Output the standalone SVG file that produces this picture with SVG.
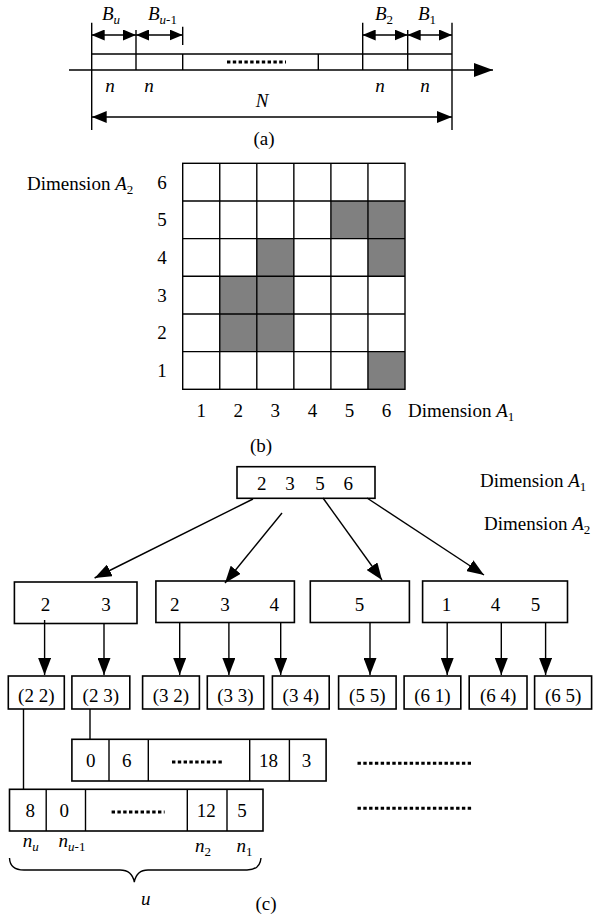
<svg xmlns="http://www.w3.org/2000/svg" width="593" height="917" viewBox="0 0 593 917">
<style>
text{font-family:"Liberation Serif","Times New Roman",serif;font-size:19px;fill:#000}
.it{font-style:italic}
.sub{font-size:13px}
.ln{stroke:#000;stroke-width:1.4;fill:none}
.bx{stroke:#000;stroke-width:1.6;fill:#fff}
.dots{stroke:#000;stroke-width:3;stroke-dasharray:3.4 2.4;fill:none}
.c{text-anchor:middle}
</style>
<defs>
<marker id="ah" markerUnits="userSpaceOnUse" markerWidth="17" markerHeight="13" refX="17" refY="6.5" orient="auto"><path d="M0,0 L17,6.5 L0,13 z" fill="#000"/></marker>
<marker id="sm" markerUnits="userSpaceOnUse" markerWidth="13" markerHeight="11" refX="13" refY="5.5" orient="auto-start-reverse"><path d="M0,0 L13,5.5 L0,11 z" fill="#000"/></marker>
<marker id="nm" markerUnits="userSpaceOnUse" markerWidth="15" markerHeight="12" refX="15" refY="6" orient="auto-start-reverse"><path d="M0,0 L15,6 L0,12 z" fill="#000"/></marker>
<marker id="ax" markerUnits="userSpaceOnUse" markerWidth="19" markerHeight="14" refX="19" refY="7" orient="auto"><path d="M0,0 L19,7 L0,14 z" fill="#000"/></marker>
</defs>

<!-- (a) -->
<g id="partA">
<line class="ln" x1="69" y1="70" x2="493" y2="70" marker-end="url(#ax)"/>
<line class="ln" x1="91.7" y1="54" x2="452" y2="54"/>
<line class="ln" x1="91.7" y1="22.7" x2="91.7" y2="130"/>
<line class="ln" x1="136" y1="30" x2="136" y2="70"/>
<line class="ln" x1="182.7" y1="26.7" x2="182.7" y2="45"/>
<line class="ln" x1="182.7" y1="54" x2="182.7" y2="70"/>
<line class="ln" x1="318.3" y1="54" x2="318.3" y2="70"/>
<line class="ln" x1="362.7" y1="22.7" x2="362.7" y2="70"/>
<line class="ln" x1="407.7" y1="30" x2="407.7" y2="70"/>
<line class="ln" x1="452" y1="22.7" x2="452" y2="130"/>
<line class="dots" x1="227" y1="62" x2="286" y2="62"/>
<line class="ln" x1="91.7" y1="35" x2="136" y2="35" marker-start="url(#sm)" marker-end="url(#sm)"/>
<line class="ln" x1="136" y1="35" x2="182.7" y2="35" marker-start="url(#sm)" marker-end="url(#sm)"/>
<line class="ln" x1="362.7" y1="35" x2="407.7" y2="35" marker-start="url(#sm)" marker-end="url(#sm)"/>
<line class="ln" x1="407.7" y1="35" x2="452" y2="35" marker-start="url(#sm)" marker-end="url(#sm)"/>
<line class="ln" x1="91.7" y1="117" x2="452" y2="117" marker-start="url(#nm)" marker-end="url(#nm)"/>
<text x="102" y="20"><tspan class="it">B</tspan><tspan class="it sub" dy="4">u</tspan></text>
<text x="148" y="20"><tspan class="it">B</tspan><tspan class="it sub" dy="4">u</tspan><tspan class="sub">-1</tspan></text>
<text x="375" y="20"><tspan class="it">B</tspan><tspan class="sub" dy="4">2</tspan></text>
<text x="418" y="20"><tspan class="it">B</tspan><tspan class="sub" dy="4">1</tspan></text>
<text class="it c" x="110" y="92">n</text>
<text class="it c" x="149" y="92">n</text>
<text class="it c" x="380" y="92">n</text>
<text class="it c" x="425" y="92">n</text>
<text class="it c" x="262" y="107">N</text>
<text class="c" x="264" y="145">(a)</text>
</g>

<!-- (b) -->
<g id="partB">
<g fill="#808080">
<rect x="330.9" y="200.97" width="37.05" height="37.67"/>
<rect x="367.95" y="200.97" width="37.05" height="37.67"/>
<rect x="256.8" y="238.64" width="37.05" height="37.67"/>
<rect x="367.95" y="238.64" width="37.05" height="37.67"/>
<rect x="219.75" y="276.31" width="37.05" height="37.67"/>
<rect x="256.8" y="276.31" width="37.05" height="37.67"/>
<rect x="219.75" y="313.98" width="37.05" height="37.67"/>
<rect x="256.8" y="313.98" width="37.05" height="37.67"/>
<rect x="367.95" y="351.65" width="37.05" height="37.67"/>
</g>
<g class="ln" stroke-width="1.6">
<rect x="182.7" y="163.3" width="222.3" height="226" style="fill:none"/>
<line x1="219.75" y1="163.3" x2="219.75" y2="389.3"/>
<line x1="256.8" y1="163.3" x2="256.8" y2="389.3"/>
<line x1="293.85" y1="163.3" x2="293.85" y2="389.3"/>
<line x1="330.9" y1="163.3" x2="330.9" y2="389.3"/>
<line x1="367.95" y1="163.3" x2="367.95" y2="389.3"/>
<line x1="182.7" y1="200.97" x2="405" y2="200.97"/>
<line x1="182.7" y1="238.64" x2="405" y2="238.64"/>
<line x1="182.7" y1="276.31" x2="405" y2="276.31"/>
<line x1="182.7" y1="313.98" x2="405" y2="313.98"/>
<line x1="182.7" y1="351.65" x2="405" y2="351.65"/>
</g>
<text class="c" x="162" y="188.6">6</text>
<text class="c" x="162" y="226.3">5</text>
<text class="c" x="162" y="264">4</text>
<text class="c" x="162" y="301.6">3</text>
<text class="c" x="162" y="339.3">2</text>
<text class="c" x="162" y="377">1</text>
<text class="c" x="201.2" y="417">1</text>
<text class="c" x="238.3" y="417">2</text>
<text class="c" x="275.3" y="417">3</text>
<text class="c" x="312.4" y="417">4</text>
<text class="c" x="349.4" y="417">5</text>
<text class="c" x="386.5" y="417">6</text>
<text x="27" y="190">Dimension <tspan class="it">A</tspan><tspan class="sub" dy="4">2</tspan></text>
<text x="408" y="417">Dimension <tspan class="it">A</tspan><tspan class="sub" dy="4">1</tspan></text>
<text class="c" x="261" y="452">(b)</text>
</g>

<!-- (c) nodes -->
<g id="root"><rect class="bx" x="237" y="466.7" width="138" height="31.6"/>
<text class="c" x="261.7" y="490">2</text><text class="c" x="290" y="490">3</text><text class="c" x="320" y="490">5</text><text class="c" x="348.3" y="490">6</text></g>
<text x="480" y="487">Dimension <tspan class="it">A</tspan><tspan class="sub" dy="4">1</tspan></text>
<text x="484" y="530">Dimension <tspan class="it">A</tspan><tspan class="sub" dy="4">2</tspan></text>

<g id="n23"><rect class="bx" x="14.4" y="582" width="122.6" height="41.5"/>
<text class="c" x="45.4" y="611">2</text><text class="c" x="105.9" y="611">3</text></g>
<g id="n234"><rect class="bx" x="155.9" y="581" width="138.5" height="41.5"/>
<text class="c" x="174.8" y="611">2</text><text class="c" x="225.1" y="611">3</text><text class="c" x="274.3" y="611">4</text></g>
<g id="n5"><rect class="bx" x="310.3" y="581" width="99.1" height="41.5"/>
<text class="c" x="359.4" y="611">5</text></g>
<g id="n145"><rect class="bx" x="422.6" y="581" width="144.9" height="41.5"/>
<text class="c" x="446.5" y="611">1</text><text class="c" x="495.6" y="611">4</text><text class="c" x="535.4" y="611">5</text></g>

<g id="leaves">
<g id="l22"><rect class="bx" x="8.3" y="676" width="56" height="33"/><text class="c" x="36.3" y="702">(2 2)</text></g>
<g id="l23"><rect class="bx" x="71.9" y="676" width="57.9" height="33"/><text class="c" x="100.8" y="702">(2 3)</text></g>
<g id="l32"><rect class="bx" x="142.6" y="676" width="56.8" height="33"/><text class="c" x="171" y="702">(3 2)</text></g>
<g id="l33"><rect class="bx" x="207.3" y="676" width="56.4" height="33"/><text class="c" x="235.5" y="702">(3 3)</text></g>
<g id="l34"><rect class="bx" x="272.4" y="676" width="56.8" height="33"/><text class="c" x="300.8" y="702">(3 4)</text></g>
<g id="l55"><rect class="bx" x="338.6" y="676" width="57.5" height="33"/><text class="c" x="367.3" y="702">(5 5)</text></g>
<g id="l61"><rect class="bx" x="404.1" y="676" width="56.7" height="33"/><text class="c" x="432.4" y="702">(6 1)</text></g>
<g id="l64"><rect class="bx" x="469.2" y="676" width="57.8" height="33"/><text class="c" x="498.1" y="702">(6 4)</text></g>
<g id="l65"><rect class="bx" x="534.6" y="676" width="57" height="33"/><text class="c" x="563.1" y="702">(6 5)</text></g>
</g>

<g id="arr1">
<rect class="bx" x="71.9" y="739.3" width="254.2" height="41.7"/>
<g class="ln" stroke-width="1.6"><line x1="109" y1="739.3" x2="109" y2="781"/><line x1="148.3" y1="739.3" x2="148.3" y2="781"/><line x1="249.7" y1="739.3" x2="249.7" y2="781"/><line x1="289.4" y1="739.3" x2="289.4" y2="781"/></g>
<text class="c" x="90.8" y="767">0</text><text class="c" x="126.7" y="767">6</text><line class="dots" x1="172" y1="762" x2="223" y2="762"/><text class="c" x="268.6" y="767">18</text><text class="c" x="306.5" y="767">3</text>
</g>
<g id="arr2">
<rect class="bx" x="9.5" y="789.3" width="253.5" height="41.7"/>
<g class="ln" stroke-width="1.6"><line x1="46.2" y1="789.3" x2="46.2" y2="831"/><line x1="85.5" y1="789.3" x2="85.5" y2="831"/><line x1="187.3" y1="789.3" x2="187.3" y2="831"/><line x1="227" y1="789.3" x2="227" y2="831"/></g>
<text class="c" x="30.3" y="817">8</text><text class="c" x="64.3" y="817">0</text><line class="dots" x1="111.6" y1="812" x2="164.6" y2="812"/><text class="c" x="206.2" y="817">12</text><text class="c" x="242.1" y="817">5</text>
</g>
<line class="dots" x1="357.5" y1="763.3" x2="471" y2="763.3"/>
<line class="dots" x1="357.5" y1="808.3" x2="473" y2="808.3"/>

<text x="22.7" y="847"><tspan class="it">n</tspan><tspan class="it sub" dy="4">u</tspan></text>
<text x="58.6" y="847"><tspan class="it">n</tspan><tspan class="it sub" dy="4">u</tspan><tspan class="sub">-1</tspan></text>
<text x="195" y="852"><tspan class="it">n</tspan><tspan class="sub" dy="4">2</tspan></text>
<text x="236.5" y="852"><tspan class="it">n</tspan><tspan class="sub" dy="4">1</tspan></text>
<path class="ln" d="M9.5,858 Q10,870 24,870 L120,870 Q132,870 134.3,882 Q136.6,870 148,870 L247,870 Q260,870 261,858"/>
<text class="it c" x="145.7" y="905">u</text>
<text class="c" x="266" y="910">(c)</text>

<!-- connectors -->
<g id="connectors" class="ln">
<line x1="253" y1="499" x2="94.6" y2="578" marker-end="url(#ah)"/>
<line x1="282" y1="513" x2="225" y2="583" marker-end="url(#ah)"/>
<line x1="323" y1="498" x2="382" y2="580" marker-end="url(#ah)"/>
<line x1="367" y1="498" x2="484" y2="575" marker-end="url(#ah)"/>
<line x1="44.6" y1="620" x2="44.6" y2="675" marker-end="url(#ah)"/>
<line x1="104" y1="623" x2="104" y2="675" marker-end="url(#ah)"/>
<line x1="179.7" y1="623" x2="179.7" y2="675" marker-end="url(#ah)"/>
<line x1="228.9" y1="623" x2="228.9" y2="675" marker-end="url(#ah)"/>
<line x1="280.7" y1="623" x2="280.7" y2="675" marker-end="url(#ah)"/>
<line x1="370" y1="623" x2="370" y2="675" marker-end="url(#ah)"/>
<line x1="447.2" y1="623" x2="447.2" y2="675" marker-end="url(#ah)"/>
<line x1="501.3" y1="623" x2="501.3" y2="675" marker-end="url(#ah)"/>
<line x1="545.6" y1="623" x2="545.6" y2="675" marker-end="url(#ah)"/>
<line x1="23.5" y1="709" x2="23.5" y2="789.3"/>
<line x1="90" y1="709" x2="90" y2="739.3"/>
</g>
</svg>
